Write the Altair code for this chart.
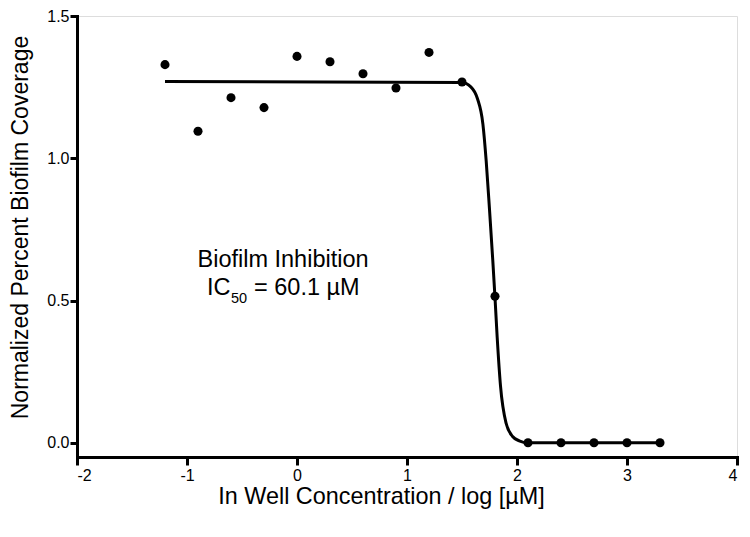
import altair as alt
import pandas as pd

# measured points
log_conc = [-1.2, -0.9, -0.6, -0.3, 0.0, 0.3, 0.6, 0.9, 1.2, 1.5, 1.8, 2.1, 2.4, 2.7, 3.0, 3.3]
coverage = [1.329, 1.095, 1.213, 1.178, 1.358, 1.339, 1.297, 1.247, 1.372, 1.268, 0.515, 0.0, 0.0, 0.0, 0.0, 0.0]

# fitted curve
fit_x = [-1.2, 1.5, 1.58, 1.64, 1.69, 1.72, 1.75, 1.78, 1.80, 1.82, 1.85, 1.90, 1.96, 2.02, 2.1, 3.3]
fit_y = [1.27, 1.266, 1.251, 1.21, 1.12, 0.99, 0.82, 0.64, 0.51, 0.37, 0.20, 0.07, 0.022, 0.007, 0.0, 0.0]

x_ticks = [-2, -1, 0, 1, 2, 3, 4]
y_ticks = [0.0, 0.5, 1.0, 1.5]

FONT = "Liberation Sans"

pts = pd.DataFrame({"x": log_conc, "y": coverage})
fit = pd.DataFrame({"x": fit_x, "y": fit_y})

xs = alt.Scale(domain=[-2, 4], nice=False, zero=False)
ys = alt.Scale(domain=[-0.05, 1.5], nice=False, zero=False)

x_axis = alt.Axis(
    values=x_ticks, labelExpr="'' + datum.value", grid=False,
    title="In Well Concentration / log [µM]",
    titleX=304, titleY=46, titleAnchor="middle", titleAlign="center", titleBaseline="alphabetic",
    titleFont=FONT, titleFontSize=23.4, titleFontWeight="normal", titleColor="black",
    labelFont=FONT, labelFontSize=16, labelColor="black", labelPadding=2,
    domainColor="black", domainWidth=3, domainCap="square",
    tickColor="black", tickWidth=3, tickSize=8,
)
y_axis = alt.Axis(
    values=y_ticks, format=".1f", grid=False,
    title="Normalized Percent Biofilm Coverage",
    titleX=-50, titleY=211, titleAngle=-90, titleAnchor="middle", titleAlign="center", titleBaseline="alphabetic",
    titleFont=FONT, titleFontSize=23, titleFontWeight="normal", titleColor="black",
    labelFont=FONT, labelFontSize=16, labelColor="black", labelPadding=1,
    domainColor="black", domainWidth=3, domainCap="square",
    tickColor="black", tickWidth=3, tickSize=7,
)

line = alt.Chart(fit).mark_line(color="black", strokeWidth=3, interpolate="monotone").encode(
    x=alt.X("x:Q", scale=xs, axis=x_axis),
    y=alt.Y("y:Q", scale=ys, axis=y_axis),
)
dots = alt.Chart(pts).mark_circle(color="black", opacity=1, size=82).encode(
    x=alt.X("x:Q", scale=xs),
    y=alt.Y("y:Q", scale=ys),
)

t1 = alt.Chart().mark_text(text="Biofilm Inhibition", font=FONT, fontSize=23.5, color="black",
                           align="center", baseline="alphabetic").encode(
    x=alt.datum(-0.127), y=alt.datum(0.618))
t2 = alt.Chart().mark_text(text="IC", font=FONT, fontSize=23.5, color="black",
                           align="left", baseline="alphabetic").encode(
    x=alt.datum(-0.818), y=alt.datum(0.519))
t3 = alt.Chart().mark_text(text="50", font=FONT, fontSize=14.5, color="black",
                           align="left", baseline="alphabetic").encode(
    x=alt.datum(-0.60), y=alt.datum(0.491))
t4 = alt.Chart().mark_text(text="= 60.1 µM", font=FONT, fontSize=23.5, color="black",
                           align="left", baseline="alphabetic").encode(
    x=alt.datum(-0.391), y=alt.datum(0.519))

chart = alt.layer(line, dots, t1, t2, t3, t4).properties(
    width=660, height=441,
    autosize=alt.AutoSizeParams(type="none"),
    padding={"left": 69, "top": 8, "right": 5, "bottom": 70},
).configure_view(stroke=None).configure(background="white")

chart.save("out.html", embed_options={"renderer": "svg", "actions": False})
